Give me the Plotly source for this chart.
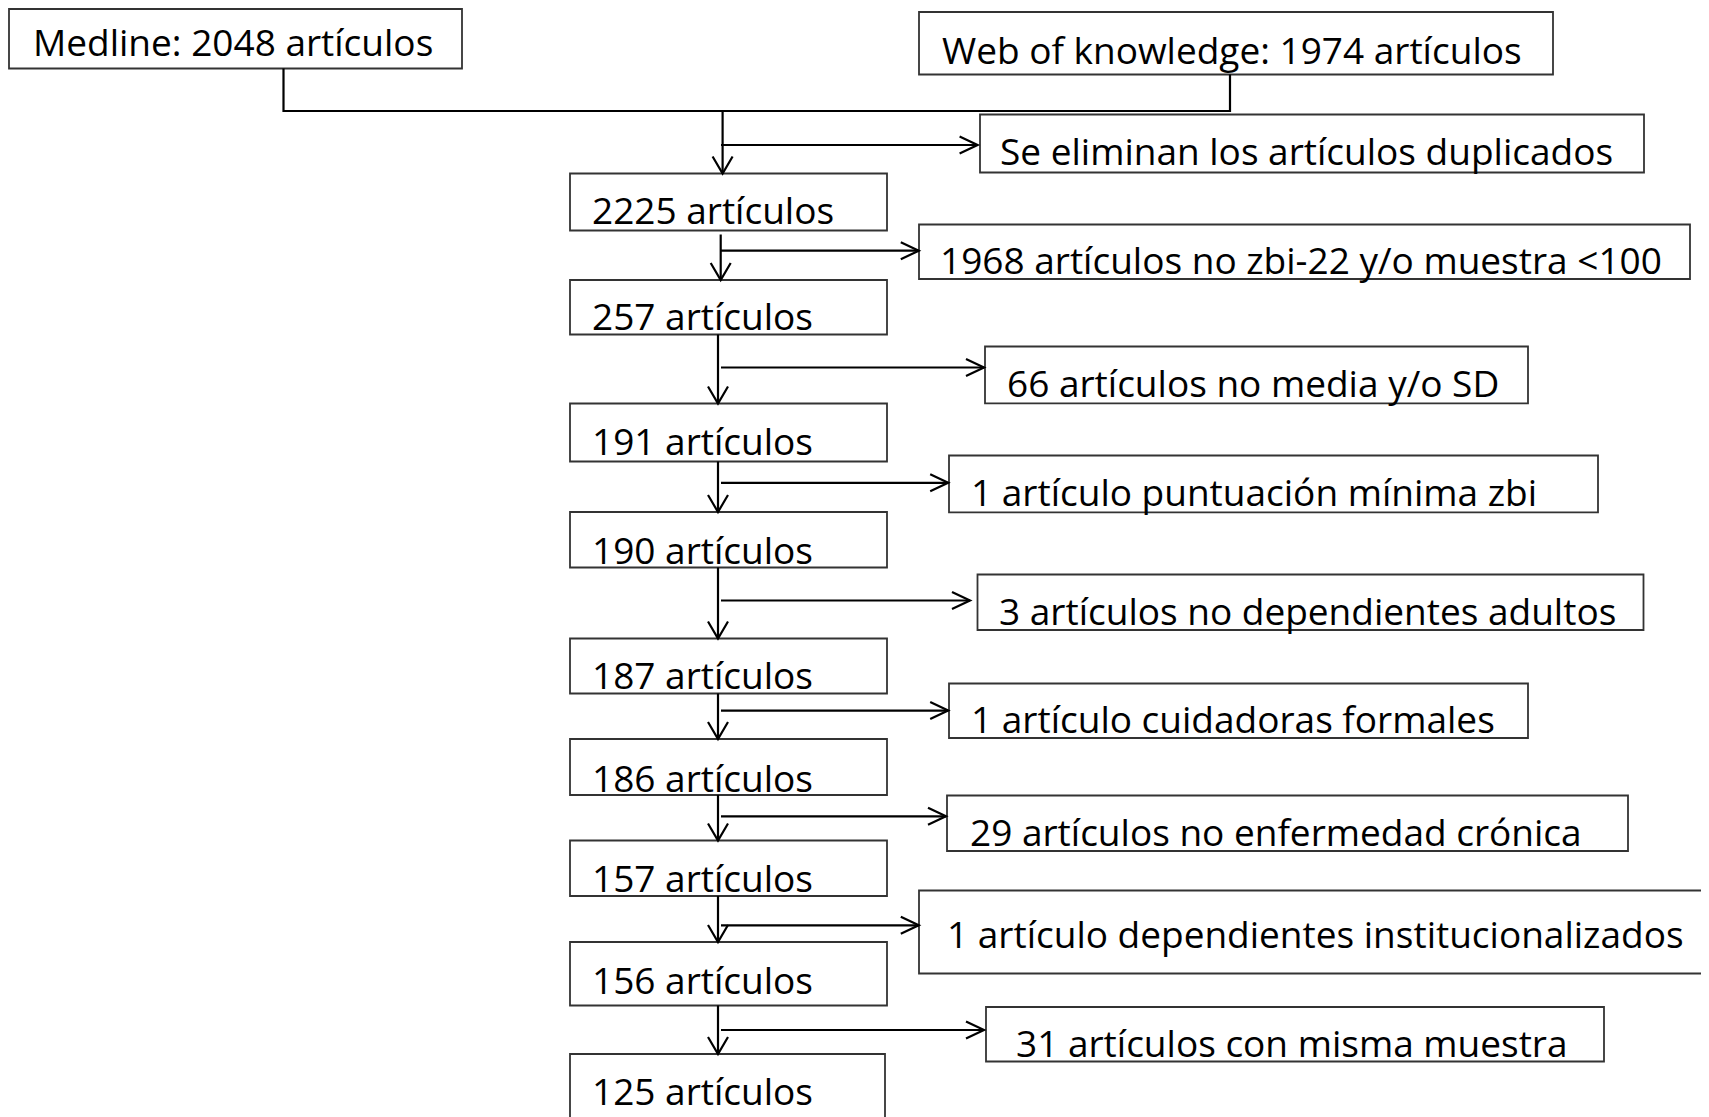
import plotly.graph_objects as go

# ---- data ----
source_labels = ["Medline: 2048 artículos", "Web of knowledge: 1974 artículos"]
remaining_counts = [2225, 257, 191, 190, 187, 186, 157, 156, 125]
remaining_unit = "artículos"
excluded_labels = [
    "Se eliminan los artículos duplicados",
    "1968 artículos no zbi-22 y/o muestra <100",
    "66 artículos no media y/o SD",
    "1 artículo puntuación mínima zbi",
    "3 artículos no dependientes adultos",
    "1 artículo cuidadoras formales",
    "29 artículos no enfermedad crónica",
    "1 artículo dependientes institucionalizados",
    "31 artículos con misma muestra",
]

# ---- layout geometry (page pixels) ----
W, H = 1709, 1117
PAGE_MARGIN = 8  # browser default body margin
FONT = "Open Sans"
FS = 37
BOX_COL = "#333333"
LINE_COL = "#000000"

src_boxes = [(9, 9, 462, 68.5), (919, 12, 1553, 74.5)]
src_text = [(31, 41.5), (939.5, 49)]

main_x0, main_x1 = 570, 887
main_y = [(173.5, 230.5), (280, 334.5), (403.5, 461.5), (512, 567.5), (638.5, 693.5),
          (739, 795), (840.5, 896), (942, 1005.5), (1054, 1125)]
main_text_x = 590
main_text_y = [209.7, 315, 440, 549.2, 674.5, 777, 877.5, 979, 1090.8]
down_x = [722.6, 720.7, 718, 718, 718, 718, 718, 718, 718]

side_boxes = [(980, 114.5, 1644, 172.5), (919, 224.5, 1690, 279), (985, 346.5, 1528, 403.3),
              (949, 455.5, 1598, 512.3), (977.5, 574.5, 1643.5, 630), (949, 683.5, 1528, 738),
              (947, 795.5, 1628, 851), (919, 890.5, 1715, 973.5), (986, 1007, 1604, 1061.5)]
side_text_x = [998, 938, 1005, 969, 997, 969, 968, 945, 1013.5]
side_text_y = [150.4, 259.4, 382.5, 491.5, 610.3, 718.3, 831.6, 933, 1042]
side_arrow_y = [145, 250.7, 367.5, 482.8, 600.5, 710.6, 816.3, 925.3, 1030]
side_arrow_tip = [977.6, 918.8, 984, 948.2, 970, 948.2, 946, 918.8, 984]
side_start_x = 721

fig = go.Figure()
fig.add_trace(go.Scatter(x=[PAGE_MARGIN, W], y=[PAGE_MARGIN, H], mode="markers",
                         marker=dict(opacity=0), hoverinfo="skip", showlegend=False))

shapes = []
annotations = []


def rect(x0, y0, x1, y1):
    shapes.append(dict(type="rect", xref="x", yref="y", x0=x0, y0=y0, x1=x1, y1=y1,
                       line=dict(color=BOX_COL, width=1.8), fillcolor="rgba(0,0,0,0)"))


def path(d, w=2.2):
    shapes.append(dict(type="path", xref="x", yref="y", path=d,
                       line=dict(color=LINE_COL, width=w)))


def label(x, y, t):
    annotations.append(dict(x=x, y=y, xref="x", yref="y", text=t, showarrow=False,
                            xanchor="left", yanchor="middle",
                            font=dict(family=FONT, size=FS, color="black")))


def down_arrow(x, y0, y1):
    path(f"M {x},{y0} L {x},{y1}")
    path(f"M {x-10},{y1-17} L {x},{y1} L {x+10},{y1-17}")


def right_arrow(x0, x1, y):
    path(f"M {x0},{y} L {x1},{y}")
    path(f"M {x1-18},{y-8.5} L {x1},{y} L {x1-18},{y+8.5}")


# sources
for (b, t, lab) in zip(src_boxes, src_text, source_labels):
    rect(*b)
    label(t[0], t[1], lab)

# merge connector
merge_y = 111
mx, wx = 283.5, 1230
path(f"M {mx},{src_boxes[0][3]} L {mx},{merge_y} L {wx},{merge_y} L {wx},{src_boxes[1][3]}")

# main boxes
for i, n in enumerate(remaining_counts):
    y0, y1 = main_y[i]
    rect(main_x0, y0, main_x1 if i < 8 else 885, y1)
    label(main_text_x, main_text_y[i], f"{n} {remaining_unit}")

# vertical arrows
down_arrow(down_x[0], merge_y, main_y[0][0])
for i in range(1, len(remaining_counts)):
    start = main_y[i - 1][1]
    if i == 1:
        start += 4
    down_arrow(down_x[i], start, main_y[i][0])

# side exclusion boxes and arrows
for i, lab in enumerate(excluded_labels):
    rect(*side_boxes[i])
    label(side_text_x[i], side_text_y[i], lab)
    right_arrow(side_start_x, side_arrow_tip[i], side_arrow_y[i])

fig.update_layout(
    width=W - PAGE_MARGIN, height=H - PAGE_MARGIN,
    margin=dict(l=0, r=0, t=0, b=0),
    paper_bgcolor="white", plot_bgcolor="white",
    xaxis=dict(range=[PAGE_MARGIN, W], visible=False, fixedrange=True),
    yaxis=dict(range=[H, PAGE_MARGIN], visible=False, fixedrange=True),
    shapes=shapes, annotations=annotations, showlegend=False,
)

fig.write_html("out.html")
